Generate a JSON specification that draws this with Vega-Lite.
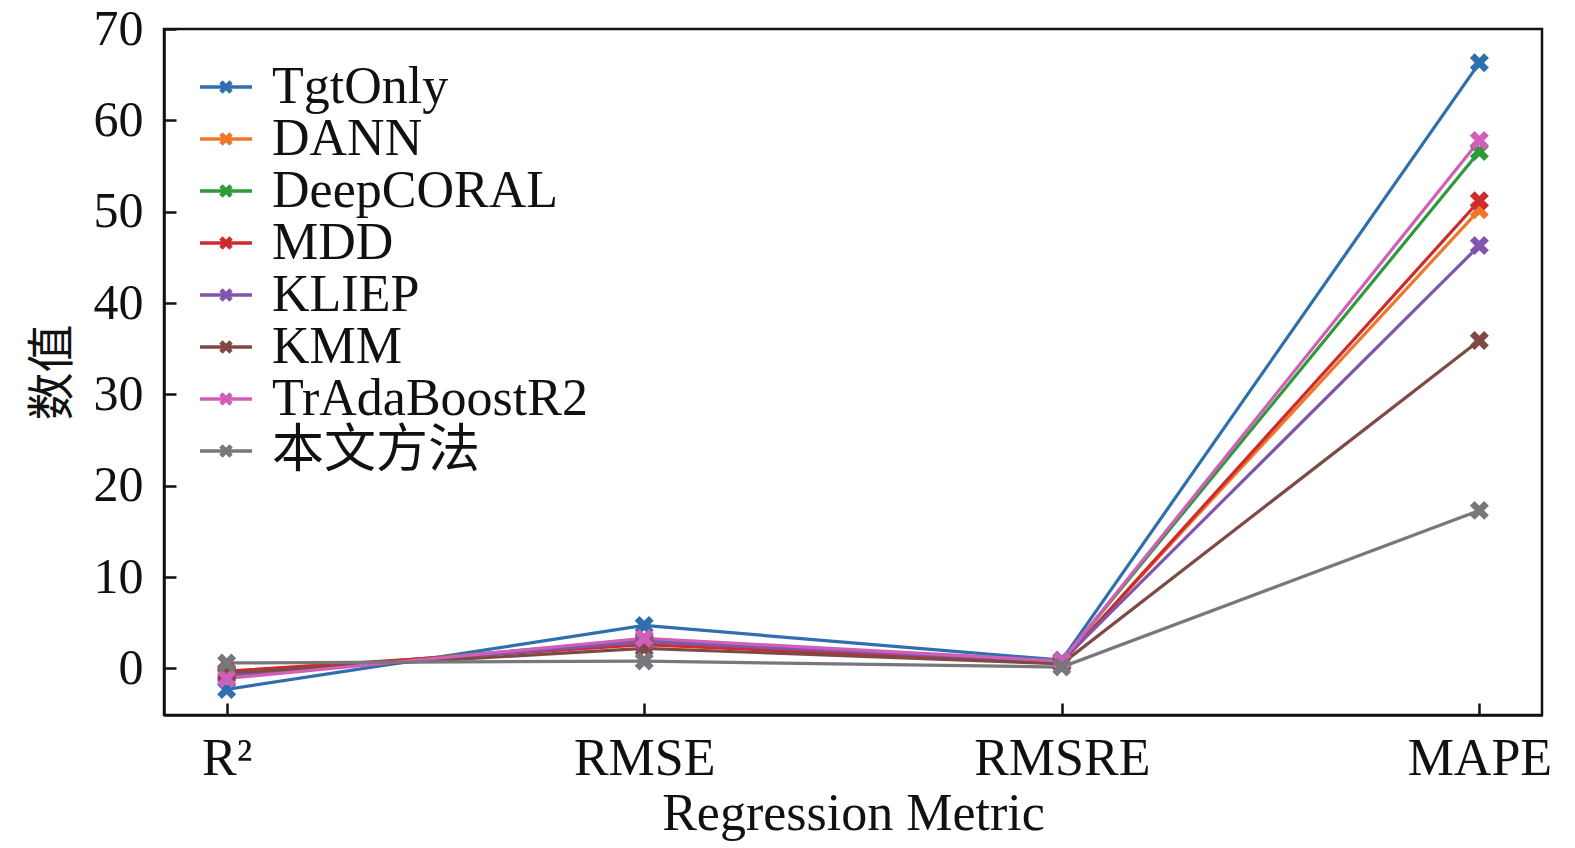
{
  "$schema": "https://vega.github.io/schema/vega-lite/v6.json",
  "width": 1378,
  "height": 686,
  "autosize": {"type": "none"},
  "padding": {"left": 164, "top": 29, "right": 33, "bottom": 133},
  "background": "white",
  "data": {
    "values": [
      {"metric": "R²", "method": "TgtOnly", "value": -2.3},
      {"metric": "RMSE", "method": "TgtOnly", "value": 4.7},
      {"metric": "RMSRE", "method": "TgtOnly", "value": 0.9},
      {"metric": "MAPE", "method": "TgtOnly", "value": 66.3},
      {"metric": "R²", "method": "DANN", "value": -0.6},
      {"metric": "RMSE", "method": "DANN", "value": 3.0},
      {"metric": "RMSRE", "method": "DANN", "value": 0.7},
      {"metric": "MAPE", "method": "DANN", "value": 50.2},
      {"metric": "R²", "method": "DeepCORAL", "value": -0.7},
      {"metric": "RMSE", "method": "DeepCORAL", "value": 3.1},
      {"metric": "RMSRE", "method": "DeepCORAL", "value": 0.8},
      {"metric": "MAPE", "method": "DeepCORAL", "value": 56.6},
      {"metric": "R²", "method": "MDD", "value": -0.3},
      {"metric": "RMSE", "method": "MDD", "value": 2.6},
      {"metric": "RMSRE", "method": "MDD", "value": 0.6},
      {"metric": "MAPE", "method": "MDD", "value": 51.2},
      {"metric": "R²", "method": "KLIEP", "value": -0.8},
      {"metric": "RMSE", "method": "KLIEP", "value": 2.9},
      {"metric": "RMSRE", "method": "KLIEP", "value": 0.8},
      {"metric": "MAPE", "method": "KLIEP", "value": 46.3},
      {"metric": "R²", "method": "KMM", "value": -0.5},
      {"metric": "RMSE", "method": "KMM", "value": 2.2},
      {"metric": "RMSRE", "method": "KMM", "value": 0.5},
      {"metric": "MAPE", "method": "KMM", "value": 35.9},
      {"metric": "R²", "method": "TrAdaBoostR2", "value": -1.1},
      {"metric": "RMSE", "method": "TrAdaBoostR2", "value": 3.3},
      {"metric": "RMSRE", "method": "TrAdaBoostR2", "value": 0.8},
      {"metric": "MAPE", "method": "TrAdaBoostR2", "value": 57.8},
      {"metric": "R²", "method": "本文方法", "value": 0.6},
      {"metric": "RMSE", "method": "本文方法", "value": 0.8},
      {"metric": "RMSRE", "method": "本文方法", "value": 0.15},
      {"metric": "MAPE", "method": "本文方法", "value": 17.3}
    ]
  },
  "encoding": {
    "x": {
      "field": "metric",
      "type": "nominal",
      "sort": ["R²", "RMSE", "RMSRE", "MAPE"],
      "scale": {"type": "point", "padding": 0.15},
      "axis": {
        "title": "Regression Metric",
        "labelAngle": 0,
        "tickSize": -12,
        "labelPadding": 30,
        "titlePadding": 4,
        "labelFontSize": 52,
        "titleFontSize": 52
      }
    },
    "y": {
      "field": "value",
      "type": "quantitative",
      "scale": {"domain": [-5.1, 70], "nice": false, "zero": false},
      "axis": {
        "title": "数值",
        "values": [0, 10, 20, 30, 40, 50, 60, 70],
        "tickSize": -12,
        "labelPadding": 33,
        "titlePadding": 16,
        "titleFont": "Noto Sans CJK SC",
        "titleFontSize": 48
      }
    },
    "color": {
      "field": "method",
      "type": "nominal",
      "sort": ["TgtOnly", "DANN", "DeepCORAL", "MDD", "KLIEP", "KMM", "TrAdaBoostR2", "本文方法"],
      "scale": {
        "domain": ["TgtOnly", "DANN", "DeepCORAL", "MDD", "KLIEP", "KMM", "TrAdaBoostR2", "本文方法"],
        "range": ["#2f6fad", "#f0772a", "#2e9a3a", "#cf2a2c", "#8055b0", "#7f4a44", "#d15eb8", "#76787c"]
      },
      "legend": {
        "title": null,
        "orient": "none",
        "legendX": 36,
        "legendY": 32,
        "symbolType": "M-1,-0.07L1,-0.07L1,0.07L-1,0.07ZM-0.13,-0.26L0.26,0.13L0.13,0.26L-0.26,-0.13ZM0.26,-0.13L-0.13,0.26L-0.26,0.13L0.13,-0.26Z",
        "symbolSize": 2704,
        "symbolStrokeWidth": 0,
        "labelFontSize": 52,
        "labelOffset": 20,
        "rowPadding": 0,
        "labelFont": "'Liberation Serif', 'Noto Sans CJK SC'",
        "labelColor": "#111111",
        "labelLimit": 700,
        "encode": {
          "symbols": {"update": {"fill": {"scale": "color", "field": "value"}, "strokeWidth": {"value": 0}}}
        }
      }
    }
  },
  "layer": [
    {"mark": {"type": "line", "strokeWidth": 3.2}},
    {
      "mark": {
        "type": "point",
        "filled": true,
        "opacity": 1,
        "size": 360,
        "shape": "M-0.5,-1L1,0.5L0.5,1L-1,-0.5ZM1,-0.5L-0.5,1L-1,0.5L0.5,-1Z"
      }
    }
  ],
  "config": {
    "font": "Liberation Serif",
    "view": {"stroke": "#111111", "strokeWidth": 2.5},
    "axis": {
      "grid": false,
      "domainColor": "#111111",
      "domainWidth": 2.5,
      "tickColor": "#111111",
      "tickWidth": 2.5,
      "labelFont": "Liberation Serif",
      "labelFontSize": 50,
      "labelColor": "#111111",
      "titleFont": "Liberation Serif",
      "titleFontSize": 50,
      "titleFontWeight": "normal",
      "titleColor": "#111111"
    }
  }
}
